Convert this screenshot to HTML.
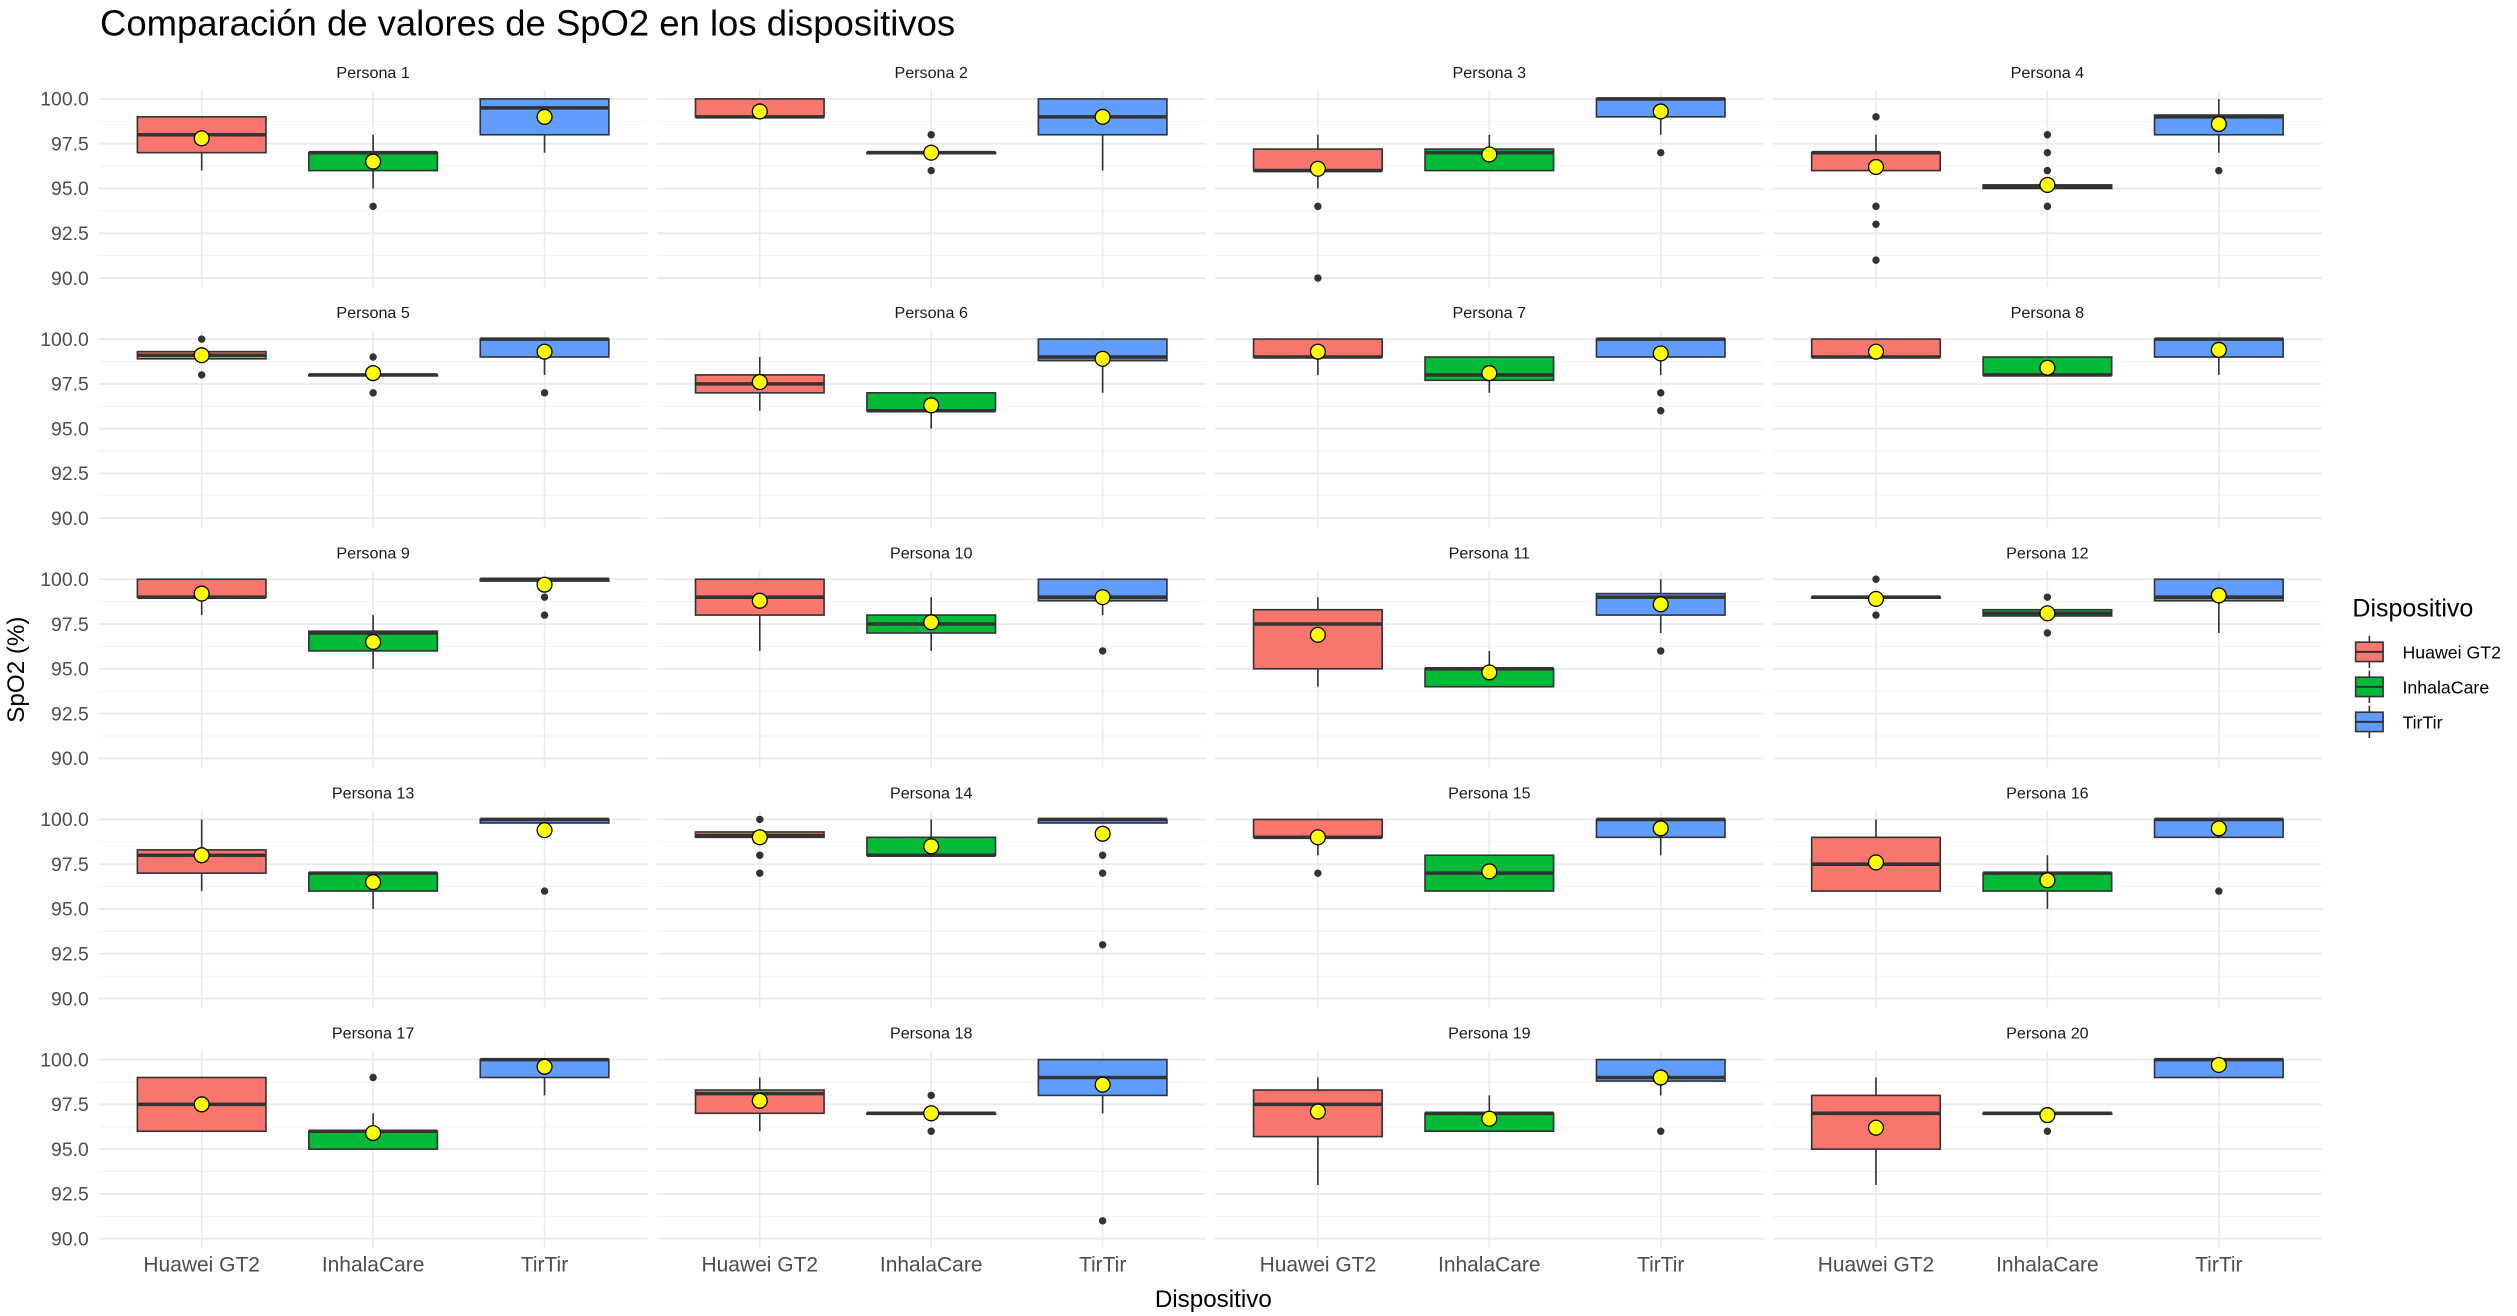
<!DOCTYPE html>
<html><head><meta charset="utf-8"><title>SpO2</title>
<style>html,body{margin:0;padding:0;background:#fff;}svg{display:block;font-family:"Liberation Sans",Arial,sans-serif;}</style>
</head><body>
<svg id="chart" width="2517" height="1316" viewBox="0 0 1560 815.6" xmlns="http://www.w3.org/2000/svg">
<text x="62" y="22" font-size="22.6" fill="#000">Comparación de valores de SpO2 en los dispositivos</text>
<g id="panels"></g>
<text x="752" y="810" font-size="15" text-anchor="middle" fill="#000">Dispositivo</text>
<text transform="translate(15,415) rotate(-90)" font-size="15" text-anchor="middle" fill="#000">SpO2 (%)</text>
<g>
<text x="1458" y="382" font-size="15.5" fill="#000">Dispositivo</text>
<g id="legend-keys"></g>
</g>
</svg>
<script>
const devices = ["Huawei GT2", "InhalaCare", "TirTir"];
const colors = ["#F8766D", "#00BA38", "#619CFF"];
const yTicks = [90, 92.5, 95, 97.5, 100];
const yTickLabels = ["90.0", "92.5", "95.0", "97.5", "100.0"];
// per person: for each device [whisker low, q1, median, q3, whisker high]
const boxStats = [
 [[96,97,98,99,99],[95,96,97,97,98],[97,98,99.5,100,100]],
 [[99,99,99,100,100],[97,97,97,97,97],[96,98,99,100,100]],
 [[95,96,96,97.2,98],[96,96,97,97.2,98],[98,99,100,100,100]],
 [[96,96,97,97,98],[95,95,95.1,95.2,95.2],[97,98,99,99.1,100]],
 [[98.9,98.9,99.1,99.3,99.3],[98,98,98,98,98],[98,99,100,100,100]],
 [[96,97,97.5,98,99],[95,96,96,97,97],[97,98.8,99,100,100]],
 [[98,99,99,100,100],[97,97.7,98,99,99],[98,99,100,100,100]],
 [[99,99,99,100,100],[98,98,98,99,99],[98,99,100,100,100]],
 [[98,99,99,100,100],[95,96,97,97.1,98],[99.9,99.9,100,100,100]],
 [[96,98,99,100,100],[96,97,97.5,98,99],[98,98.8,99,100,100]],
 [[94,95,97.5,98.3,99],[94,94,95,95,96],[97,98,99,99.2,100]],
 [[99,99,99,99,99],[97.95,97.95,98.1,98.3,98.3],[97,98.8,99,100,100]],
 [[96,97,98,98.3,100],[95,96,97,97,97],[99,99.8,100,100,100]],
 [[99,99,99.1,99.3,99.3],[98,98,98,99,100],[99.8,99.8,100,100,100]],
 [[98,99,99,100,100],[96,96,97,98,98],[98,99,100,100,100]],
 [[96,96,97.5,99,100],[95,96,97,97,98],[99,99,100,100,100]],
 [[96,96,97.5,99,99],[95,95,96,96,97],[98,99,100,100,100]],
 [[96,97,98.1,98.3,99],[97,97,97,97,97],[97,98,99,100,100]],
 [[93,95.7,97.5,98.3,99],[96,96,97,97,98],[98,98.8,99,100,100]],
 [[93,95,97,98,99],[97,97,97,97,97],[99,99,100,100,100]]
];
const means = [
 [97.8,96.5,99.0],[99.3,97.0,99.0],[96.1,96.9,99.3],[96.2,95.2,98.6],
 [99.1,98.1,99.3],[97.6,96.3,98.9],[99.3,98.1,99.2],[99.3,98.4,99.4],
 [99.2,96.5,99.7],[98.8,97.6,99.0],[96.9,94.8,98.6],[98.9,98.1,99.1],
 [98.0,96.5,99.4],[99.0,98.5,99.2],[99.0,97.1,99.5],[97.6,96.6,99.5],
 [97.5,95.9,99.6],[97.7,97.0,98.6],[97.1,96.7,99.0],[96.2,96.9,99.7]
];
const outliers = [
 [[],[94],[]],[[],[96,98],[]],[[94,90],[],[97]],[[99,94,93,91],[98,97,96,94],[96]],
 [[100,98],[99,97],[97]],[[],[],[]],[[],[],[97,96]],[[],[],[]],
 [[],[],[99,98]],[[],[],[96]],[[],[],[96]],[[100,98],[99,97],[]],
 [[],[],[96]],[[100,98,97],[],[99,98,97,93]],[[97],[],[]],[[],[],[96]],
 [[],[99],[]],[[],[98,96],[91]],[[],[],[96]],[[],[96],[]]
];
const NS="http://www.w3.org/2000/svg";
const panelsG=document.getElementById('panels');
const panelW=340, panelPitch=345.9, panelLeft0=61.25, unitX=panelW/3.2;
const rowPitch=148.85, y100=61.3, pxPerUnit=11.1;
function xScale(col,cat){return panelLeft0+col*panelPitch+(cat+0.6)*unitX;}
function yScale(row,v){return y100+row*rowPitch+(100-v)*pxPerUnit;}
function mk(tag,attrs,parent){const e=document.createElementNS(NS,tag);for(const k in attrs)e.setAttribute(k,attrs[k]);parent.appendChild(e);return e;}
for(let p=0;p<boxStats.length;p++){
 const row=Math.floor(p/4), col=p%4;
 const g=mk('g',{},panelsG);
 
 
 const left=panelLeft0+col*panelPitch;
 const top=yScale(row,100.5), bot=yScale(row,89.5);
 for(let v=91.25;v<100.5;v+=2.5){const l=mk('line',{x1:left,x2:left+panelW,y1:yScale(row,v),y2:yScale(row,v),stroke:'#f2f2f2','stroke-width':0.6},g);}
 for(let i=0;i<yTicks.length;i++){const y=yScale(row,yTicks[i]);const l=mk('line',{x1:left,x2:left+panelW,y1:y,y2:y,stroke:'#ebebeb','stroke-width':1.2},g);
  if(col===0){const t=mk('text',{x:55,y:y+4.2,'font-size':12,'text-anchor':'end',fill:'#4d4d4d'},g);t.textContent=yTickLabels[i];}}
 for(let c=0;c<3;c++){const x=xScale(col,c);const l=mk('line',{x1:x,x2:x,y1:top,y2:bot,stroke:'#ebebeb','stroke-width':1},g);}
 const st=mk('text',{x:left+panelW/2,y:yScale(row,100)-13,'font-size':10,'text-anchor':'middle',fill:'#1a1a1a'},g);
 st.textContent='Persona '+(p+1);
 
 
 for(let c=0;c<3;c++){
  const s=boxStats[p][c], x=xScale(col,c), bw=0.75*unitX;
  const bg=mk('g',{},g);
  
  
  mk('line',{x1:x,x2:x,y1:yScale(row,s[4]),y2:yScale(row,s[3]),stroke:'#333','stroke-width':1},bg);
  mk('line',{x1:x,x2:x,y1:yScale(row,s[1]),y2:yScale(row,s[0]),stroke:'#333','stroke-width':1},bg);
  const yq3=yScale(row,s[3]), yq1=yScale(row,s[1]);
  mk('rect',{x:x-bw/2,y:yq3,width:bw,height:Math.max(yq1-yq3,0.5),fill:colors[c],stroke:'#333','stroke-width':1},bg);
  mk('line',{x1:x-bw/2,x2:x+bw/2,y1:yScale(row,s[2]),y2:yScale(row,s[2]),stroke:'#333','stroke-width':2.2},bg);
  for(const o of outliers[p][c]){const d=mk('circle',{cx:x,cy:yScale(row,o),r:2.3,fill:'#333'},bg);}
  const m=mk('circle',{cx:x,cy:yScale(row,means[p][c]),r:4.6,fill:'#ffff00',stroke:'#000','stroke-width':0.8},bg);
  
  
  if(row===4){const t=mk('text',{x:x,y:788,'font-size':13,'text-anchor':'middle',fill:'#4d4d4d'},g);t.textContent=devices[c];}
 }
}
const lk=document.getElementById('legend-keys');
for(let c=0;c<3;c++){
 const y0=396+c*21.7;
 const g=mk('g',{},lk);
 
 
 mk('line',{x1:1468.5,x2:1468.5,y1:y0-2,y2:y0+18,stroke:'#333','stroke-width':1},g);
 mk('rect',{x:1460,y:y0+2,width:17,height:12,fill:colors[c],stroke:'#333','stroke-width':1},g);
 mk('line',{x1:1460,x2:1477,y1:y0+8,y2:y0+8,stroke:'#333','stroke-width':1.2},g);
 const t=mk('text',{x:1489,y:y0+12,'font-size':11,fill:'#000'},g);
 t.textContent=devices[c];
}
</script>
</body></html>
